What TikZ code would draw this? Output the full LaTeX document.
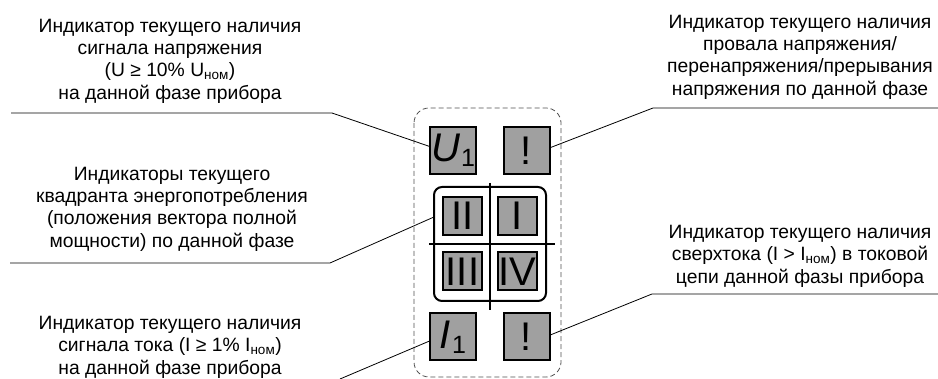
\documentclass[tikz,border=0pt]{standalone}
\usepackage{fontspec}
\setmainfont{Liberation Sans}
\definecolor{boxgray}{RGB}{160,160,160}
\definecolor{dashgray}{RGB}{80,80,80}
\newcommand{\nomsub}[1]{\textsubscript{#1}}
\tikzset{
  ind/.style={draw=black, line width=2pt, fill=boxgray, inner sep=0pt, minimum width=46pt, minimum height=47pt, font=\fontsize{40}{40}\selectfont},
  quadbox/.style={draw=black, line width=2pt, fill=boxgray, inner sep=0pt, minimum width=39pt, minimum height=38pt, font=\fontsize{40}{40}\selectfont},
  lbl/.style={align=center, inner sep=0pt, font=\fontsize{19.3}{22.4}\selectfont},
  leader/.style={draw=black, line width=0.8pt},
}
\begin{document}
\begin{tikzpicture}[x=1pt,y=-1pt]
\useasboundingbox (0,0) rectangle (938,379);
% dashed frame
\draw[dashgray, line width=0.8pt, rounded corners=15pt, dash pattern=on 5pt off 3pt] (414,108) rectangle (561,377);
% quadrant frame
\node[draw=black, line width=2pt, rounded corners=8pt, minimum width=112pt, minimum height=114pt, inner sep=0pt] (quad) at (490,244) {};
\coordinate (vt) at (490,183);
\coordinate (vb) at (490,310);
\coordinate (hl) at (429,244);
\coordinate (hr) at (555,244);
\draw[line width=1.6pt] (vt) -- (vb);
\draw[line width=1.6pt] (hl) -- (hr);
% indicators
\node[ind] (U1) at (453,150.5) {\textit{U}\kern1pt{\fontsize{25}{25}\selectfont\raisebox{-5pt}{1}}};
\node[ind] (E1) at (526.5,150.5) {!};
\node[ind] (I1) at (453,337) {\textit{I}\kern1pt{\fontsize{25}{25}\selectfont\raisebox{-5pt}{1}}};
\node[ind] (E2) at (526.5,337) {!};
\node[quadbox] (q2) at (462.5,216) {II};
\node[quadbox] (q1) at (517.5,216) {I};
\node[quadbox] (q3) at (462.5,271.5) {III};
\node[quadbox] (q4) at (517.5,271.5) {IV};
% labels
\node[lbl] (tTL) at (170,61) {Индикатор текущего наличия\\сигнала напряжения\\(U ≥ 10\% U\nomsub{ном})\\на данной фазе прибора};
\node[lbl] (tTR) at (800,57) {Индикатор текущего наличия\\провала напряжения/\\перенапряжения/прерывания\\напряжения по данной фазе};
\node[lbl] (tML) at (172,209) {Индикаторы текущего\\квадранта энергопотребления\\(положения вектора полной\\мощности) по данной фазе};
\node[lbl] (tBL) at (170,347) {Индикатор текущего наличия\\сигнала тока (I ≥ 1\% I\nomsub{ном})\\на данной фазе прибора};
\node[lbl] (tBR) at (800,256) {Индикатор текущего наличия\\сверхтока (I > I\nomsub{ном}) в токовой\\цепи данной фазы прибора};
% leader lines
\coordinate (a1) at (11,113);
\coordinate (a2) at (332,113);
\draw[leader] (a1) -- (a2) -- (U1.170);
\coordinate (b1) at (938,108);
\coordinate (b2) at (653,108);
\draw[leader] (b1) -- (b2) -- (E1.7);
\coordinate (c1) at (10,263);
\coordinate (c2) at (330,263);
\draw[leader] (c1) -- (c2) -- (quad.155);
\coordinate (d1) at (340,379);
\draw[leader] (d1) -- (I1.190);
\coordinate (e1) at (938,294);
\coordinate (e2) at (652,294);
\draw[leader] (e1) -- (e2) -- (E2.5);
\end{tikzpicture}
\end{document}
